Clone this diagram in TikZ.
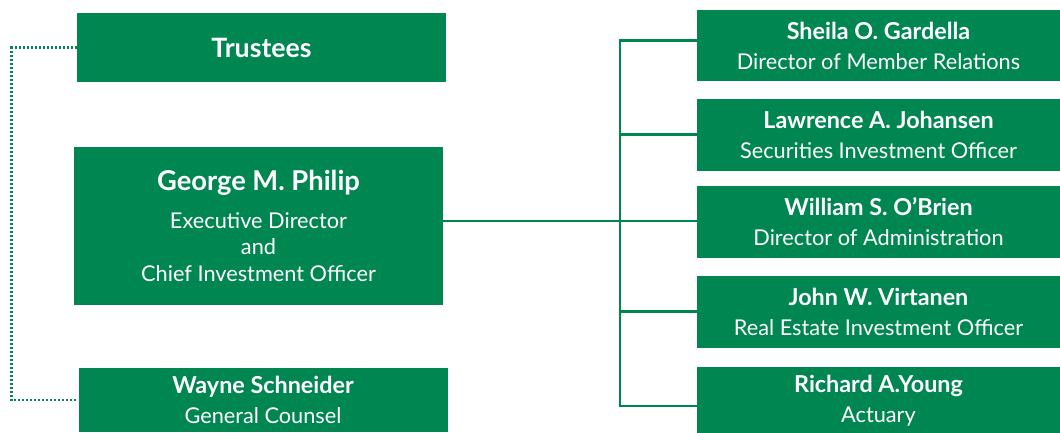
\documentclass[tikz,border=0pt]{standalone}
\usepackage{fontspec}
\setmainfont{Lato}
\usetikzlibrary{positioning}
\definecolor{boardgreen}{HTML}{008651}

\begin{document}
\begin{tikzpicture}[x=0.75pt, y=-0.75pt,
    box/.style={fill=boardgreen, text=white, align=center, inner sep=0pt},
    left box/.style={box, minimum width=276.75pt},
    right box/.style={box, minimum width=272.25pt, minimum height=54pt},
    link/.style={draw=boardgreen, line width=2pt},
    dots/.style={draw=boardgreen, line width=2pt, dash pattern=on 1.5pt off 1.5pt}]

    \useasboundingbox (0,0) rectangle (1060,432);

    \node(T)[left box, minimum height=51.75pt] at (261.5,47.5){\fontsize{20}{24}\selectfont\bfseries Trustees};
    \node(G)[left box, minimum height=118.5pt, font=\fontsize{16.3}{20}\selectfont] at (258.5,226){{\fontsize{20.5}{24}\selectfont\bfseries George M. Philip}\\[8pt]Executive Director\\and\\Chief Investment Officer};
    \node(W)[left box, minimum height=48pt, font=\fontsize{16.3}{22.5}\selectfont] at (263,400){{\bfseries\fontsize{17.5}{22.5}\selectfont Wayne Schneider}\\General Counsel};

    \node(S)[right box, minimum height=53.25pt, font=\fontsize{16.3}{22.5}\selectfont] at (878.5,45.5){{\bfseries\fontsize{17.5}{22.5}\selectfont Sheila O. Gardella}\\Director of Member Relations};
    \node(L)[right box, font=\fontsize{16.3}{22.5}\selectfont, below=12.75pt of S]{{\bfseries\fontsize{17.5}{22.5}\selectfont Lawrence A. Johansen}\\Securities Investment Officer};
    \node(O)[right box, font=\fontsize{16.3}{22.5}\selectfont, below=11.25pt of L]{{\bfseries\fontsize{17.5}{22.5}\selectfont William S. O’Brien}\\Director of Administration};
    \node(V)[right box, font=\fontsize{16.3}{22.5}\selectfont, below=12.75pt of O]{{\bfseries\fontsize{17.5}{22.5}\selectfont John W. Virtanen}\\Real Estate Investment Officer};
    \node(Y)[right box, minimum height=50.25pt, font=\fontsize{16.3}{22.5}\selectfont, below=14.25pt of V]{{\bfseries\fontsize{17.5}{22.5}\selectfont Richard A.Young}\\Actuary};

    % trunk between the executive and his staff
    \coordinate(J) at (620,221);
    \draw[link] ([yshift=4pt]S.west) -| (J) |- ([yshift=-4pt]Y.west);
    \draw[link] (G.east |- J) -- (J) -- (J -| O.west);
    \draw[link] (J |- L.west) -- (L.west);
    \draw[link] (J |- V.west) -- (V.west);

    \draw[dots] (T.west) -- ++(-65,0) |- (W.west);

\end{tikzpicture}
\end{document}
